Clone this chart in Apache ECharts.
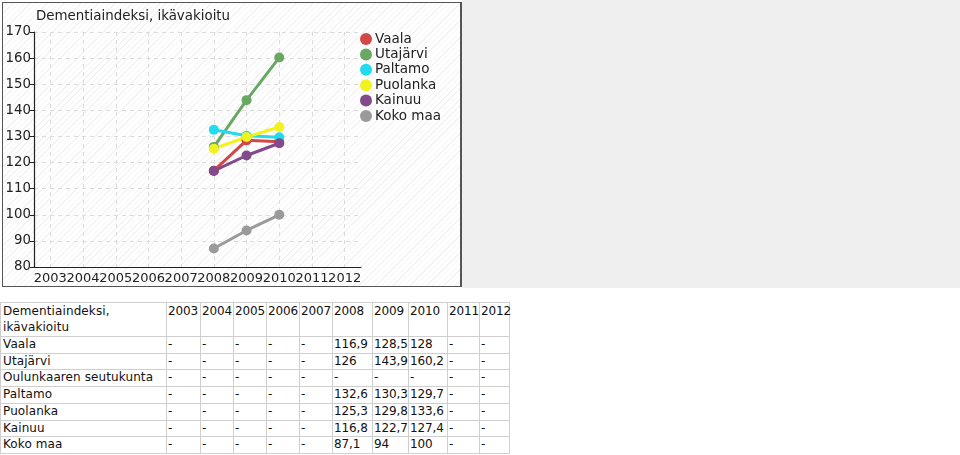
<!DOCTYPE html>
<html>
<head>
<meta charset="utf-8">
<script src="https://cdn.jsdelivr.net/npm/echarts@6/dist/echarts.min.js"></script>
<style>
  html, body { margin: 0; padding: 0; background: #fff; }
  body { width: 960px; height: 455px; position: relative; overflow: hidden; font-family: "DejaVu Sans", Verdana, sans-serif; }
  #gray { position: absolute; left: 462px; top: 0; width: 498px; height: 288px; background: #efefef; }
  #frame { position: absolute; left: 2px; top: 2px; width: 457px; height: 283px; border: 1.5px solid #555; border-right-width: 2px;
           background: repeating-linear-gradient(135deg, #ffffff 0px, #ffffff 3px, #f3f3f3 3px, #f3f3f3 4px); }
  #chart { position: absolute; left: 0; top: 0; width: 960px; height: 290px; }
  table { position: absolute; left: 0; top: 302px; width: 510px; border-collapse: collapse; table-layout: fixed; font-size: 12px; color: #111; }
  td { border: 1px solid #cfcfcf; padding: 0 0 0 1px; height: 15.7px; line-height: 15.7px; white-space: nowrap; overflow: visible; vertical-align: top; letter-spacing: -0.1px; }
  td:first-child { padding-left: 2px; letter-spacing: 0.1px; }
  tr.head td { height: 32px; line-height: 15.5px; padding-top: 1px; white-space: normal; }
</style>
</head>
<body>
<div id="gray"></div>
<div id="frame"></div>
<div id="chart"></div>
<table id="tbl"></table>
<script>
var titleText = 'Dementiaindeksi, ikävakioitu';
var years = ['2003','2004','2005','2006','2007','2008','2009','2010','2011','2012'];
var yTicks = [80, 90, 100, 110, 120, 130, 140, 150, 160, 170];
var seriesNames = ['Vaala','Utajärvi','Paltamo','Puolanka','Kainuu','Koko maa'];
var vaala    = [null,null,null,null,null,116.9,128.5,128,null,null];
var utajarvi = [null,null,null,null,null,126,143.9,160.2,null,null];
var oulunkaari = [null,null,null,null,null,null,null,null,null,null];
var paltamo  = [null,null,null,null,null,132.6,130.3,129.7,null,null];
var puolanka = [null,null,null,null,null,125.3,129.8,133.6,null,null];
var kainuu   = [null,null,null,null,null,116.8,122.7,127.4,null,null];
var kokomaa  = [null,null,null,null,null,87.1,94,100,null,null];
var tableRows = [
  ['Vaala', vaala], ['Utajärvi', utajarvi], ['Oulunkaaren seutukunta', oulunkaari],
  ['Paltamo', paltamo], ['Puolanka', puolanka], ['Kainuu', kainuu], ['Koko maa', kokomaa]
];
var colors = ['#d24848','#68a862','#22dbee','#f2f21e','#824a8a','#9a9a9a'];
var seriesData = [vaala, utajarvi, paltamo, puolanka, kainuu, kokomaa];

var chart = echarts.init(document.getElementById('chart'), null, {renderer: 'canvas'});
var font = '"DejaVu Sans", Verdana, sans-serif';
chart.setOption({
  backgroundColor: 'transparent',
  animation: false,
  color: colors,
  title: { text: titleText, left: 31, top: 5, textStyle: { fontFamily: font, fontSize: 13.4, fontWeight: 'normal', color: '#222' } },
  legend: {
    orient: 'vertical', left: 360, top: 32, padding: 0, itemWidth: 12, itemHeight: 12, itemGap: 1.4,
    icon: 'circle', data: seriesNames,
    textStyle: { fontFamily: font, fontSize: 13.5, color: '#222', padding: [0,0,0,-2] }
  },
  grid: { left: 34, top: 32, width: 327, height: 235 },
  xAxis: {
    type: 'category', data: years, boundaryGap: true,
    axisLine: { lineStyle: { color: '#222', width: 1.2 } },
    axisTick: { alignWithLabel: true, length: 5, lineStyle: { color: '#222' } },
    axisLabel: { interval: 0, margin: 5, fontFamily: font, fontSize: 13, color: '#222' },
    splitLine: { show: true, alignWithLabel: true, lineStyle: { color: '#dcdcdc', type: [4, 4] } }
  },
  yAxis: {
    type: 'value', min: 80, max: 170, interval: 10,
    axisLine: { show: true, lineStyle: { color: '#222', width: 1.2 } },
    axisTick: { show: true, length: 4, lineStyle: { color: '#222' } },
    axisLabel: { margin: 3, fontFamily: font, fontSize: 13.3, color: '#222',
      formatter: function (v) { return yTicks.indexOf(v) >= 0 ? String(v) : ''; } },
    splitLine: { show: true, lineStyle: { color: '#dcdcdc', type: [4, 4] } }
  },
  series: seriesNames.map(function (n, i) {
    return { name: n, type: 'line', data: seriesData[i], symbol: 'circle', symbolSize: 10,
      lineStyle: { width: 3 }, itemStyle: { color: colors[i] }, connectNulls: false };
  })
});

// table
var tbl = document.getElementById('tbl');
var widths = [166, 34, 33, 33, 33, 33, 40, 36, 39, 32, 30];
var cg = document.createElement('colgroup');
widths.forEach(function (w) { var c = document.createElement('col'); c.style.width = w + 'px'; cg.appendChild(c); });
tbl.appendChild(cg);
var head = document.createElement('tr'); head.className = 'head';
var h0 = document.createElement('td'); h0.textContent = titleText; head.appendChild(h0);
years.forEach(function (y) { var td = document.createElement('td'); td.textContent = y; head.appendChild(td); });
tbl.appendChild(head);
tableRows.forEach(function (r) {
  var tr = document.createElement('tr');
  var td0 = document.createElement('td'); td0.textContent = r[0]; tr.appendChild(td0);
  r[1].forEach(function (v) {
    var td = document.createElement('td');
    td.textContent = v == null ? '-' : String(v).replace('.', ',');
    tr.appendChild(td);
  });
  tbl.appendChild(tr);
});
</script>
</body>
</html>
